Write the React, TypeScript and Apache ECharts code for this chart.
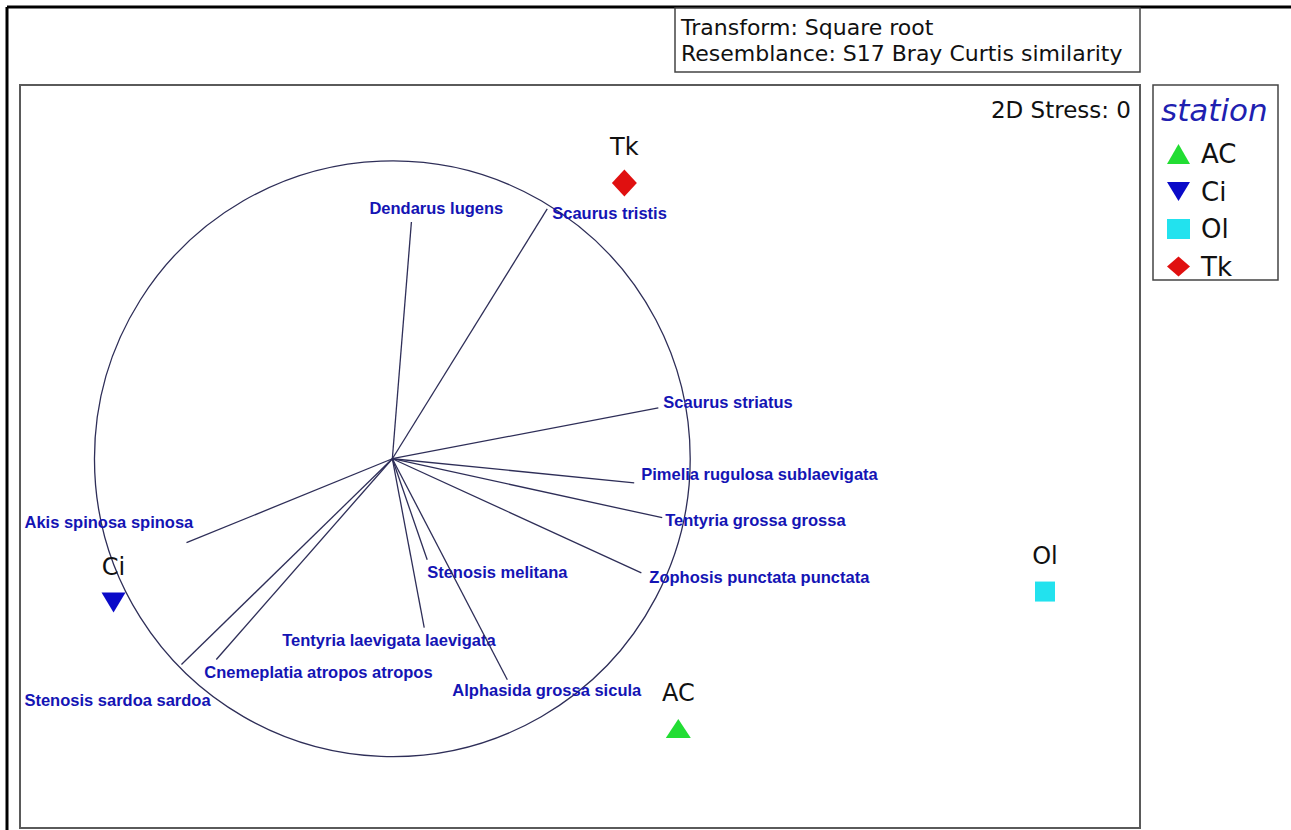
import React, { useEffect, useRef } from "react";
import * as echarts from "echarts";

// Stations (MDS coordinates, vector-circle units)
const stations = ["AC", "Ci", "Ol", "Tk"];
const stationX = [0.96, -0.936, 2.191, 0.779];
const stationY = [-0.906, -0.483, -0.446, 0.926];

// Species correlation vectors
const species = [
  "Dendarus lugens",
  "Scaurus tristis",
  "Scaurus striatus",
  "Pimelia rugulosa sublaevigata",
  "Tentyria grossa grossa",
  "Zophosis punctata punctata",
  "Stenosis melitana",
  "Tentyria laevigata laevigata",
  "Alphasida grossa sicula",
  "Cnemeplatia atropos atropos",
  "Stenosis sardoa sardoa",
  "Akis spinosa spinosa",
];
const vecX = [0.064, 0.52, 0.893, 0.812, 0.906, 0.836, 0.117, 0.107, 0.386, -0.591, -0.708, -0.691];
const vecY = [0.795, 0.839, 0.171, -0.081, -0.198, -0.383, -0.339, -0.567, -0.742, -0.674, -0.691, -0.282];

const circleRadius = [1];

// styling (label placement in pixels relative to vector end)
const labelOffsets = [
  [-42, -14], [5, 4], [5, -6], [7, -9], [3, 2], [8, 4],
  [0, 12], [-142, 12], [-55, 10], [-12, 13], [-157, 35], [-162, -21],
];
const stationColors = ["#22dd33", "#0a0ac8", "#22e2ee", "#e01010"];
const stationSymbols = ["triangle", "path://M0,0L24,0L12,20Z", "rect", "diamond"];
const stationSizes = [[25, 19], [24, 20], [20, 20], [25, 27]];

export default function App() {
  const ref = useRef<HTMLDivElement>(null);
  useEffect(() => {
    const chart = echarts.init(ref.current as HTMLDivElement, null, { renderer: "svg" });
    const option: any = {
      animation: false,
      backgroundColor: "#ffffff",
      grid: {
        left: 20,
        top: 85,
        width: 1120,
        height: 743,
        show: true,
        borderColor: "#5a5a5a",
        borderWidth: 2,
        backgroundColor: "#ffffff",
      },
      xAxis: { type: "value", min: -1.25, max: 2.51, show: false },
      yAxis: { type: "value", min: -1.24, max: 1.255, show: false },
      legend: {
        orient: "vertical",
        left: 1162,
        top: 136,
        itemWidth: 23,
        itemHeight: 20,
        itemGap: 11.5,
        data: stations,
        textStyle: { fontSize: 26, fontFamily: "DejaVu Sans", color: "#111", padding: [0, 0, 0, 6] },
      },
      graphic: [
        { type: "line", shape: { x1: 7, y1: 7, x2: 1291, y2: 7 }, style: { stroke: "#000", lineWidth: 3 } },
        { type: "line", shape: { x1: 7, y1: 7, x2: 7, y2: 830 }, style: { stroke: "#000", lineWidth: 3 } },
        {
          type: "rect",
          shape: { x: 675, y: 8, width: 465, height: 64 },
          style: { fill: "#fff", stroke: "#444", lineWidth: 1.5 },
        },
        {
          type: "text",
          x: 681,
          y: 27,
          style: {
            text: "Transform: Square root",
            fill: "#111",
            fontSize: 22,
            fontFamily: "DejaVu Sans",
            align: "left",
            verticalAlign: "middle",
          },
        },
        {
          type: "text",
          x: 681,
          y: 53,
          style: {
            text: "Resemblance: S17 Bray Curtis similarity",
            fill: "#111",
            fontSize: 22,
            fontFamily: "DejaVu Sans",
            align: "left",
            verticalAlign: "middle",
          },
        },
        {
          type: "text",
          x: 1131,
          y: 110,
          style: {
            text: "2D Stress: 0",
            fill: "#111",
            fontSize: 23,
            fontFamily: "DejaVu Sans",
            align: "right",
            verticalAlign: "middle",
          },
        },
        {
          type: "rect",
          shape: { x: 1153, y: 85, width: 125, height: 195 },
          style: { fill: "none", stroke: "#444", lineWidth: 1.5 },
        },
        {
          type: "text",
          x: 1161,
          y: 110,
          style: {
            text: "station",
            fill: "#2020b0",
            fontSize: 31,
            fontStyle: "italic",
            fontFamily: "DejaVu Sans",
            align: "left",
            verticalAlign: "middle",
          },
        },
      ],
      series: [
        {
          type: "custom",
          name: "circle",
          coordinateSystem: "cartesian2d",
          silent: true,
          data: circleRadius.map((r) => [0, 0, r]),
          renderItem: (params: any, api: any) => {
            const c = api.coord([api.value(0), api.value(1)]);
            const r = api.size([api.value(2), 0])[0];
            return {
              type: "circle",
              shape: { cx: c[0], cy: c[1], r },
              style: { fill: "none", stroke: "#2e2e58", lineWidth: 1.3 },
            };
          },
        },
        {
          type: "custom",
          name: "vectors",
          coordinateSystem: "cartesian2d",
          silent: true,
          data: species.map((n, i) => [vecX[i], vecY[i], i]),
          renderItem: (params: any, api: any) => {
            const i = api.value(2);
            const o = api.coord([0, 0]);
            const e = api.coord([api.value(0), api.value(1)]);
            const off = labelOffsets[i];
            return {
              type: "group",
              children: [
                {
                  type: "line",
                  shape: { x1: o[0], y1: o[1], x2: e[0], y2: e[1] },
                  style: { stroke: "#2e2e58", lineWidth: 1.3 },
                },
                {
                  type: "text",
                  x: e[0] + off[0],
                  y: e[1] + off[1],
                  style: {
                    text: species[i],
                    fill: "#1414b4",
                    fontSize: 16.5,
                    fontWeight: "bold",
                    fontFamily: "Liberation Sans",
                    align: "left",
                    verticalAlign: "middle",
                  },
                },
              ],
            };
          },
        },
        ...stations.map((s, i) => ({
          type: "scatter",
          name: s,
          data: [[stationX[i], stationY[i]]],
          symbol: stationSymbols[i],
          symbolSize: stationSizes[i],
          itemStyle: { color: stationColors[i], opacity: 1 },
          label: {
            show: true,
            formatter: s,
            position: "inside",
            offset: [0, -36],
            fontSize: 24,
            fontFamily: "DejaVu Sans",
            color: "#111",
          },
        })),
      ],
    };
    chart.setOption(option);
    return () => chart.dispose();
  }, []);
  return (
    <div
      ref={ref}
      style={{ position: "fixed", left: 0, top: 0, width: 1291, height: 830, background: "#fff" }}
    />
  );
}
